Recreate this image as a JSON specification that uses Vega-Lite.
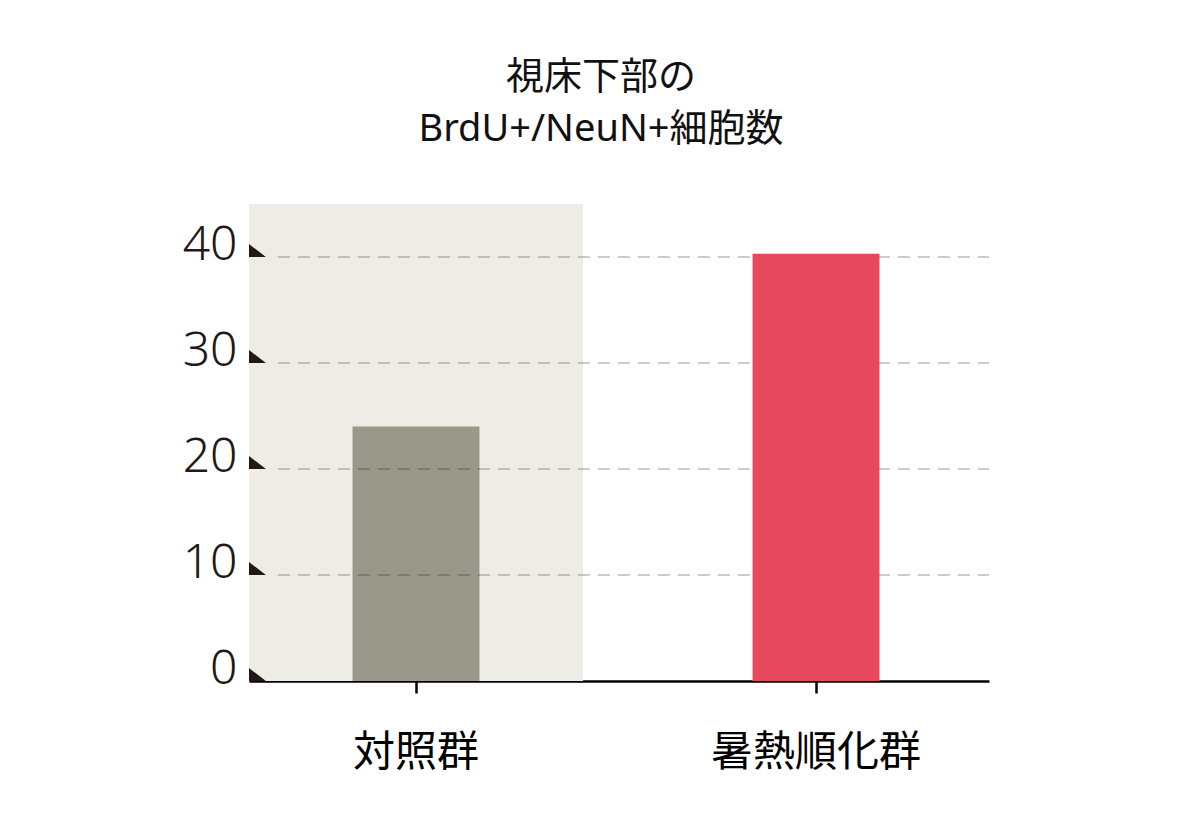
{
  "$schema": "https://vega.github.io/schema/vega-lite/v6.json",
  "width": 740,
  "height": 477,
  "autosize": {"type": "none"},
  "padding": {"left": 249, "top": 204, "right": 211, "bottom": 144},
  "background": "white",
  "title": {
    "text": ["視床下部の", "BrdU+/NeuN+細胞数"],
    "font": "Noto Sans, Noto Sans CJK JP",
    "fontSize": 38,
    "fontWeight": "normal",
    "color": "#111111",
    "lineHeight": 52,
    "anchor": "middle",
    "dx": -18,
    "offset": 55
  },
  "datasets": {
    "bars": [
      {"group": "対照群", "count": 24},
      {"group": "暑熱順化群", "count": 40.3}
    ],
    "shade": [
      {"group": "対照群", "top": 45}
    ],
    "grid": [
      {"v": 10}, {"v": 20}, {"v": 30}, {"v": 40}
    ],
    "ticks": [
      {"v": 0}, {"v": 10}, {"v": 20}, {"v": 30}, {"v": 40}
    ]
  },
  "resolve": {"scale": {"x": "independent"}},
  "layer": [
    {
      "data": {"name": "shade"},
      "mark": {"type": "bar", "color": "#EEEDE5"},
      "encoding": {
        "x": {
          "field": "group", "type": "nominal",
          "scale": {"domain": ["対照群", "暑熱順化群"], "paddingInner": 0.165, "paddingOuter": 0.0075, "align": 0},
          "axis": {
            "title": null, "labelAngle": 0, "grid": false,
            "domain": true, "domainColor": "#000000", "domainWidth": 2.5,
            "ticks": true, "tickColor": "#000000", "tickWidth": 2.5, "tickSize": 12,
            "labelFont": "Noto Sans CJK JP", "labelFontSize": 42, "labelColor": "#000000",
            "labelBaseline": "middle", "labelPadding": 59, "labelLimit": 0
          }
        },
        "y": {
          "field": "top", "type": "quantitative", "title": null,
          "scale": {"domain": [0, 45], "nice": false},
          "axis": {
            "values": [0, 10, 20, 30, 40], "grid": false,
            "domain": false, "ticks": false,
            "labelFont": "Noto Sans", "labelFontSize": 48, "labelFontWeight": 300,
            "labelColor": "#231815", "labelPadding": 12,
            "labelBaseline": "alphabetic", "labelOffset": 2
          }
        },
        "y2": {"datum": 0}
      }
    },
    {
      "data": {"name": "bars"},
      "transform": [{"filter": "datum.group === '対照群'"}],
      "mark": {"type": "bar", "color": "#99988A", "width": {"band": 0.38}},
      "encoding": {
        "x": {
          "field": "group", "type": "nominal",
          "scale": {"domain": ["対照群", "暑熱順化群"], "paddingInner": 0.165, "paddingOuter": 0.0075, "align": 0},
          "axis": null
        },
        "y": {"field": "count", "type": "quantitative", "title": null}
      }
    },
    {
      "data": {"name": "grid"},
      "mark": {"type": "rule", "color": "#1a1a00", "opacity": 0.22, "strokeWidth": 2, "strokeDash": [12, 8]},
      "encoding": {
        "x": {"datum": 0.039, "type": "quantitative", "scale": {"domain": [0, 1], "nice": false, "zero": false}, "axis": null},
        "x2": {"datum": 1},
        "y": {"field": "v", "type": "quantitative", "title": null}
      }
    },
    {
      "data": {"name": "bars"},
      "transform": [{"filter": "datum.group === '暑熱順化群'"}],
      "mark": {"type": "bar", "color": "#E6495E", "width": {"band": 0.38}},
      "encoding": {
        "x": {
          "field": "group", "type": "nominal",
          "scale": {"domain": ["対照群", "暑熱順化群"], "paddingInner": 0.165, "paddingOuter": 0.0075, "align": 0},
          "axis": null
        },
        "y": {"field": "count", "type": "quantitative", "title": null}
      }
    },
    {
      "data": {"name": "ticks"},
      "mark": {"type": "point", "shape": "M0,-1L0,0L1.3,0Z", "size": 676, "filled": true, "color": "#231815", "opacity": 1},
      "encoding": {
        "x": {"datum": 0, "type": "quantitative", "scale": {"domain": [0, 1], "nice": false, "zero": false}, "axis": null},
        "y": {"field": "v", "type": "quantitative", "title": null}
      }
    }
  ],
  "config": {
    "view": {"stroke": null}
  }
}
